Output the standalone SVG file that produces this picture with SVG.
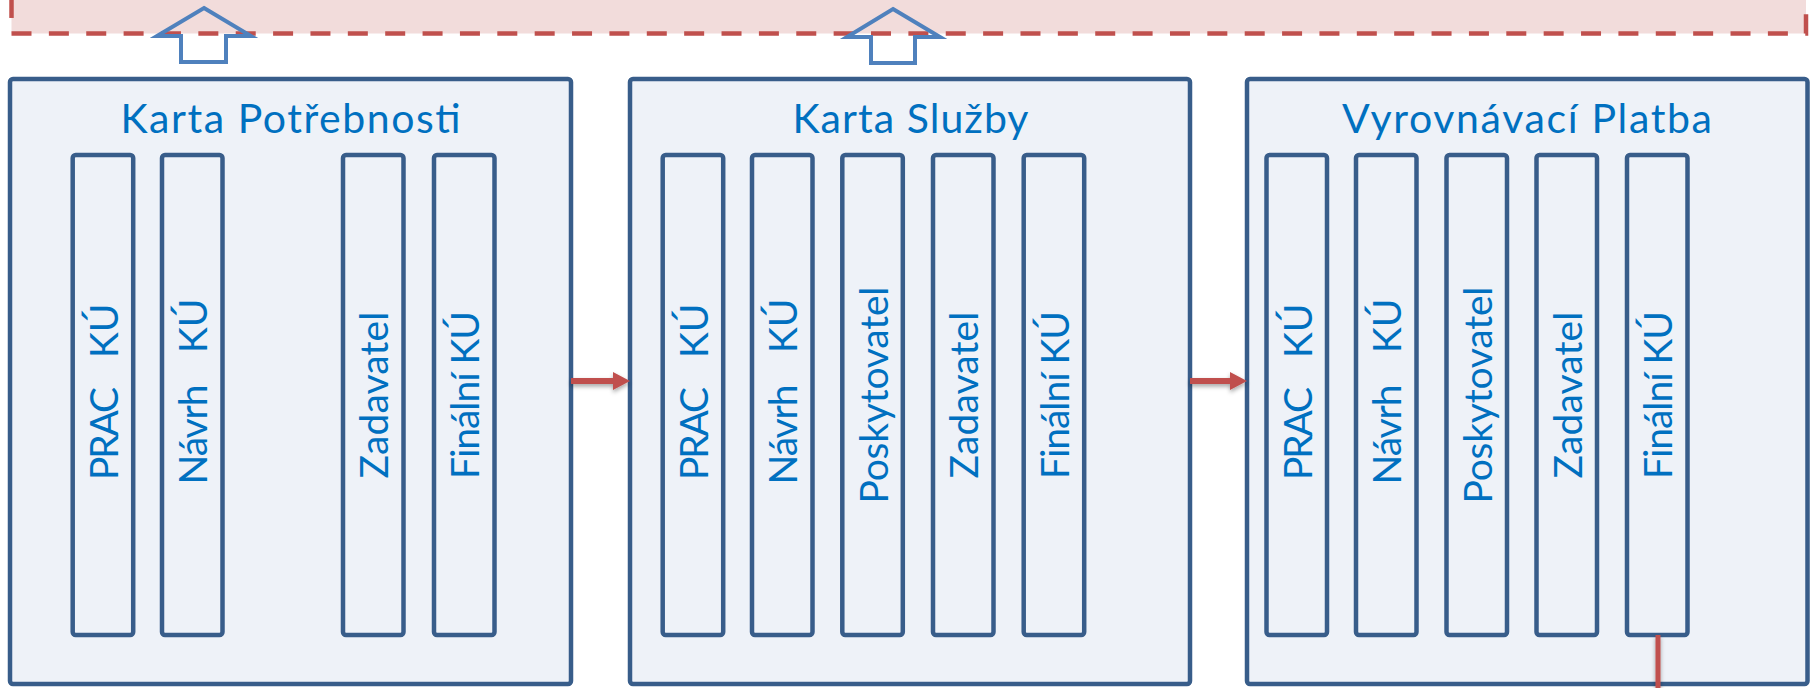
<svg xmlns="http://www.w3.org/2000/svg" width="1814" height="688" viewBox="0 0 1814 688">
<style>
.card{fill:#eef2f8;stroke:#385d8a;stroke-width:4.5}
.col{fill:#eef2f8;stroke:#385d8a;stroke-width:4.5}
.title{font-family:Lato,"Open Sans","Liberation Sans",sans-serif;font-size:41px;fill:#0070c0;text-anchor:middle}
.lbl{font-family:Lato,"Open Sans","Liberation Sans",sans-serif;font-size:39px;fill:#0070c0;text-anchor:middle}
.lbs{font-family:Lato,"Open Sans","Liberation Sans",sans-serif;font-size:39px;fill:#0070c0;text-anchor:start;white-space:pre}
.dash{fill:none;stroke:#c0504d;stroke-width:4.5;stroke-dasharray:20 17.37}
.up{fill:none;stroke:#4f81bd;stroke-width:4;stroke-linejoin:miter}
.red{fill:#c0504d}
</style>
<defs>
<filter id="sh" x="-20%" y="-50%" width="140%" height="250%">
<feDropShadow dx="0" dy="2.5" stdDeviation="2" flood-color="#000" flood-opacity="0.35"/>
</filter>
</defs>
<rect width="1814" height="688" fill="#ffffff"/>
<g id="layer">
<rect x="11.5" y="-20" width="1794.5" height="53.5" fill="#f2dcdb"/>
<path class="dash" d="M11.5,33.5 H1806 V-60"/>
<path class="dash" d="M11.5,-19.4 V33.5" stroke-dashoffset="20"/>
</g>
<g id="card1">
<rect class="card" x="10" y="79" width="561" height="605" rx="3"/>
<text class="title" x="290.5" y="133" textLength="340" lengthAdjust="spacing">Karta Potřebnosti</text>
<rect class="col" x="72.7" y="155" width="60.5" height="480" rx="3"/>
<rect class="col" x="162" y="155" width="60.5" height="480" rx="3"/>
<rect class="col" x="343" y="155" width="60.5" height="480" rx="3"/>
<rect class="col" x="434" y="155" width="60.5" height="480" rx="3"/>
<text class="lbs" xml:space="preserve" transform="translate(118,395) rotate(-90)"><tspan x="-85" textLength="93" lengthAdjust="spacing">PRAC</tspan><tspan>  </tspan><tspan x="37">KÚ</tspan></text>
<text class="lbs" xml:space="preserve" transform="translate(207.3,395) rotate(-90)"><tspan x="-89.5" textLength="100" lengthAdjust="spacing">Návrh</tspan><tspan>  </tspan><tspan x="42">KÚ</tspan></text>
<text class="lbl" transform="translate(388.3,395) rotate(-90)" textLength="167" lengthAdjust="spacing">Zadavatel</text>
<text class="lbl" transform="translate(479.3,395) rotate(-90)" textLength="168" lengthAdjust="spacing">Finální KÚ</text>
</g>
<g id="card2">
<rect class="card" x="630" y="79" width="560" height="605" rx="3"/>
<text class="title" x="910.5" y="133" textLength="236" lengthAdjust="spacing">Karta Služby</text>
<rect class="col" x="662.7" y="155" width="60.5" height="480" rx="3"/>
<rect class="col" x="752" y="155" width="60.5" height="480" rx="3"/>
<rect class="col" x="842.3" y="155" width="60.5" height="480" rx="3"/>
<rect class="col" x="933" y="155" width="60.5" height="480" rx="3"/>
<rect class="col" x="1023.7" y="155" width="60.5" height="480" rx="3"/>
<text class="lbs" xml:space="preserve" transform="translate(708,395) rotate(-90)"><tspan x="-85" textLength="93" lengthAdjust="spacing">PRAC</tspan><tspan>  </tspan><tspan x="37">KÚ</tspan></text>
<text class="lbs" xml:space="preserve" transform="translate(797.3,395) rotate(-90)"><tspan x="-89.5" textLength="100" lengthAdjust="spacing">Návrh</tspan><tspan>  </tspan><tspan x="42">KÚ</tspan></text>
<text class="lbl" transform="translate(887.6,395) rotate(-90)" textLength="217" lengthAdjust="spacing">Poskytovatel</text>
<text class="lbl" transform="translate(978.3,395) rotate(-90)" textLength="167" lengthAdjust="spacing">Zadavatel</text>
<text class="lbl" transform="translate(1069,395) rotate(-90)" textLength="168" lengthAdjust="spacing">Finální KÚ</text>
</g>
<g id="card3">
<rect class="card" x="1247" y="79" width="560.5" height="605" rx="3"/>
<text class="title" x="1527" y="133" textLength="370" lengthAdjust="spacing">Vyrovnávací Platba</text>
<rect class="col" x="1266.5" y="155" width="60.5" height="480" rx="3"/>
<rect class="col" x="1356" y="155" width="60.5" height="480" rx="3"/>
<rect class="col" x="1446.5" y="155" width="60.5" height="480" rx="3"/>
<rect class="col" x="1536.5" y="155" width="60.5" height="480" rx="3"/>
<rect class="col" x="1627" y="155" width="60.5" height="480" rx="3"/>
<text class="lbs" xml:space="preserve" transform="translate(1311.8,395) rotate(-90)"><tspan x="-85" textLength="93" lengthAdjust="spacing">PRAC</tspan><tspan>  </tspan><tspan x="37">KÚ</tspan></text>
<text class="lbs" xml:space="preserve" transform="translate(1401.3,395) rotate(-90)"><tspan x="-89.5" textLength="100" lengthAdjust="spacing">Návrh</tspan><tspan>  </tspan><tspan x="42">KÚ</tspan></text>
<text class="lbl" transform="translate(1491.8,395) rotate(-90)" textLength="217" lengthAdjust="spacing">Poskytovatel</text>
<text class="lbl" transform="translate(1581.8,395) rotate(-90)" textLength="167" lengthAdjust="spacing">Zadavatel</text>
<text class="lbl" transform="translate(1672.3,395) rotate(-90)" textLength="168" lengthAdjust="spacing">Finální KÚ</text>
</g>
<g id="connectors">
<polygon class="up" points="204,8 251,36 226,36 226,62 181,62 181,36 157,36"/>
<polygon class="up" points="893,9 940,37 915,37 915,63 871,63 871,37 847,37"/>
<g filter="url(#sh)">
<polygon class="red" points="571,378 613,378 613,372 630,381 613,390 613,384 571,384"/>
<polygon class="red" points="1190,378 1230,378 1230,372 1247,381 1230,390 1230,384 1190,384"/>
<rect class="red" x="1655.5" y="635" width="5" height="55"/>
</g>
</g>
</svg>
